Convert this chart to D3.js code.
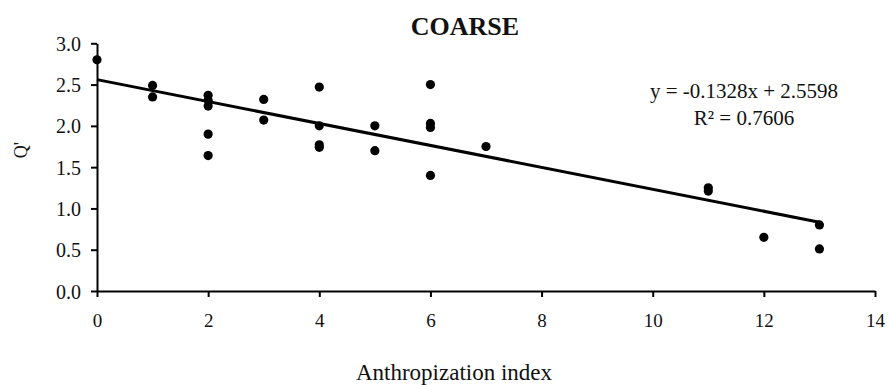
<!DOCTYPE html>
<html><head><meta charset="utf-8">
<script src="https://cdn.jsdelivr.net/npm/d3@7"></script>
<style>
body{margin:0;background:#fff;}
svg{display:block;}
text{font-family:"Liberation Serif","Times New Roman",serif;fill:#111;}
</style></head>
<body><svg id="c" width="890" height="385"></svg>
<script>
const xValues = [0,1,1,2,2,2,2,2,3,3,4,4,4,4,5,5,6,6,6,6,7,11,11,12,13,13];
const yValues = [2.80,2.49,2.35,2.37,2.31,2.24,1.90,1.64,2.32,2.07,2.47,2.00,1.77,1.74,2.00,1.70,2.50,2.03,1.98,1.40,1.75,1.25,1.21,0.65,0.80,0.51];
const xTicks = [0,2,4,6,8,10,12,14];
const yTicks = [0,0.5,1.0,1.5,2.0,2.5,3.0];
const trendSlope = -0.1328, trendIntercept = 2.5598, trendR2 = 0.7606;
const trendRange = [0,13];
const title = "COARSE", xTitle = "Anthropization index", yTitle = "Q'";

const svg = d3.select("#c");
const x = d3.scaleLinear().domain([0,14]).range([97,875]);
const y = d3.scaleLinear().domain([0,3]).range([291,43.3]);

const xa = svg.append("g").attr("transform","translate(0,291)")
  .call(d3.axisBottom(x).tickValues(xTicks).tickSize(6).tickSizeOuter(0).tickFormat(d3.format("d")));
const ya = svg.append("g").attr("transform","translate(97,0)")
  .call(d3.axisLeft(y).tickValues(yTicks).tickSize(6).tickSizeOuter(0).tickFormat(d3.format(".1f")));
[xa,ya].forEach(g=>{
  g.select(".domain").attr("stroke","#000").attr("stroke-width",2);
  g.selectAll(".tick line").attr("stroke","#000").attr("stroke-width",2);
  g.selectAll(".tick text").style("font-family","'Liberation Serif'").attr("fill","#222");
});
xa.selectAll(".tick text").attr("font-size",19).attr("y",null).attr("dy",null).attr("transform","translate(0,36)");
ya.selectAll(".tick text").attr("font-size",20).attr("x",-16).attr("dy","0.35em");

svg.append("line")
  .attr("x1",x(trendRange[0])).attr("y1",y(trendIntercept+trendSlope*trendRange[0]))
  .attr("x2",x(trendRange[1])).attr("y2",y(trendIntercept+trendSlope*trendRange[1]))
  .attr("stroke","#000").attr("stroke-width",3);

svg.append("g").selectAll("circle").data(xValues.map((v,i)=>[v,yValues[i]])).join("circle")
  .attr("cx",d=>x(d[0])).attr("cy",d=>y(d[1])).attr("r",4.6).attr("fill","#000");

svg.append("text").attr("x",465).attr("y",35).attr("text-anchor","middle")
  .attr("font-size",26).attr("font-weight","bold").text(title);
svg.append("text").attr("x",454).attr("y",380).attr("text-anchor","middle")
  .attr("font-size",23).text(xTitle);
svg.append("text").attr("transform","translate(27,150) rotate(-90)").attr("text-anchor","middle")
  .attr("font-size",18).attr("fill","#333").text(yTitle);
svg.append("text").attr("x",744).attr("y",98).attr("text-anchor","middle")
  .attr("font-size",21).text(`y = ${trendSlope}x + ${trendIntercept}`);
svg.append("text").attr("x",744).attr("y",125).attr("text-anchor","middle")
  .attr("font-size",21).text(`R² = ${trendR2}`);
</script></body></html>
